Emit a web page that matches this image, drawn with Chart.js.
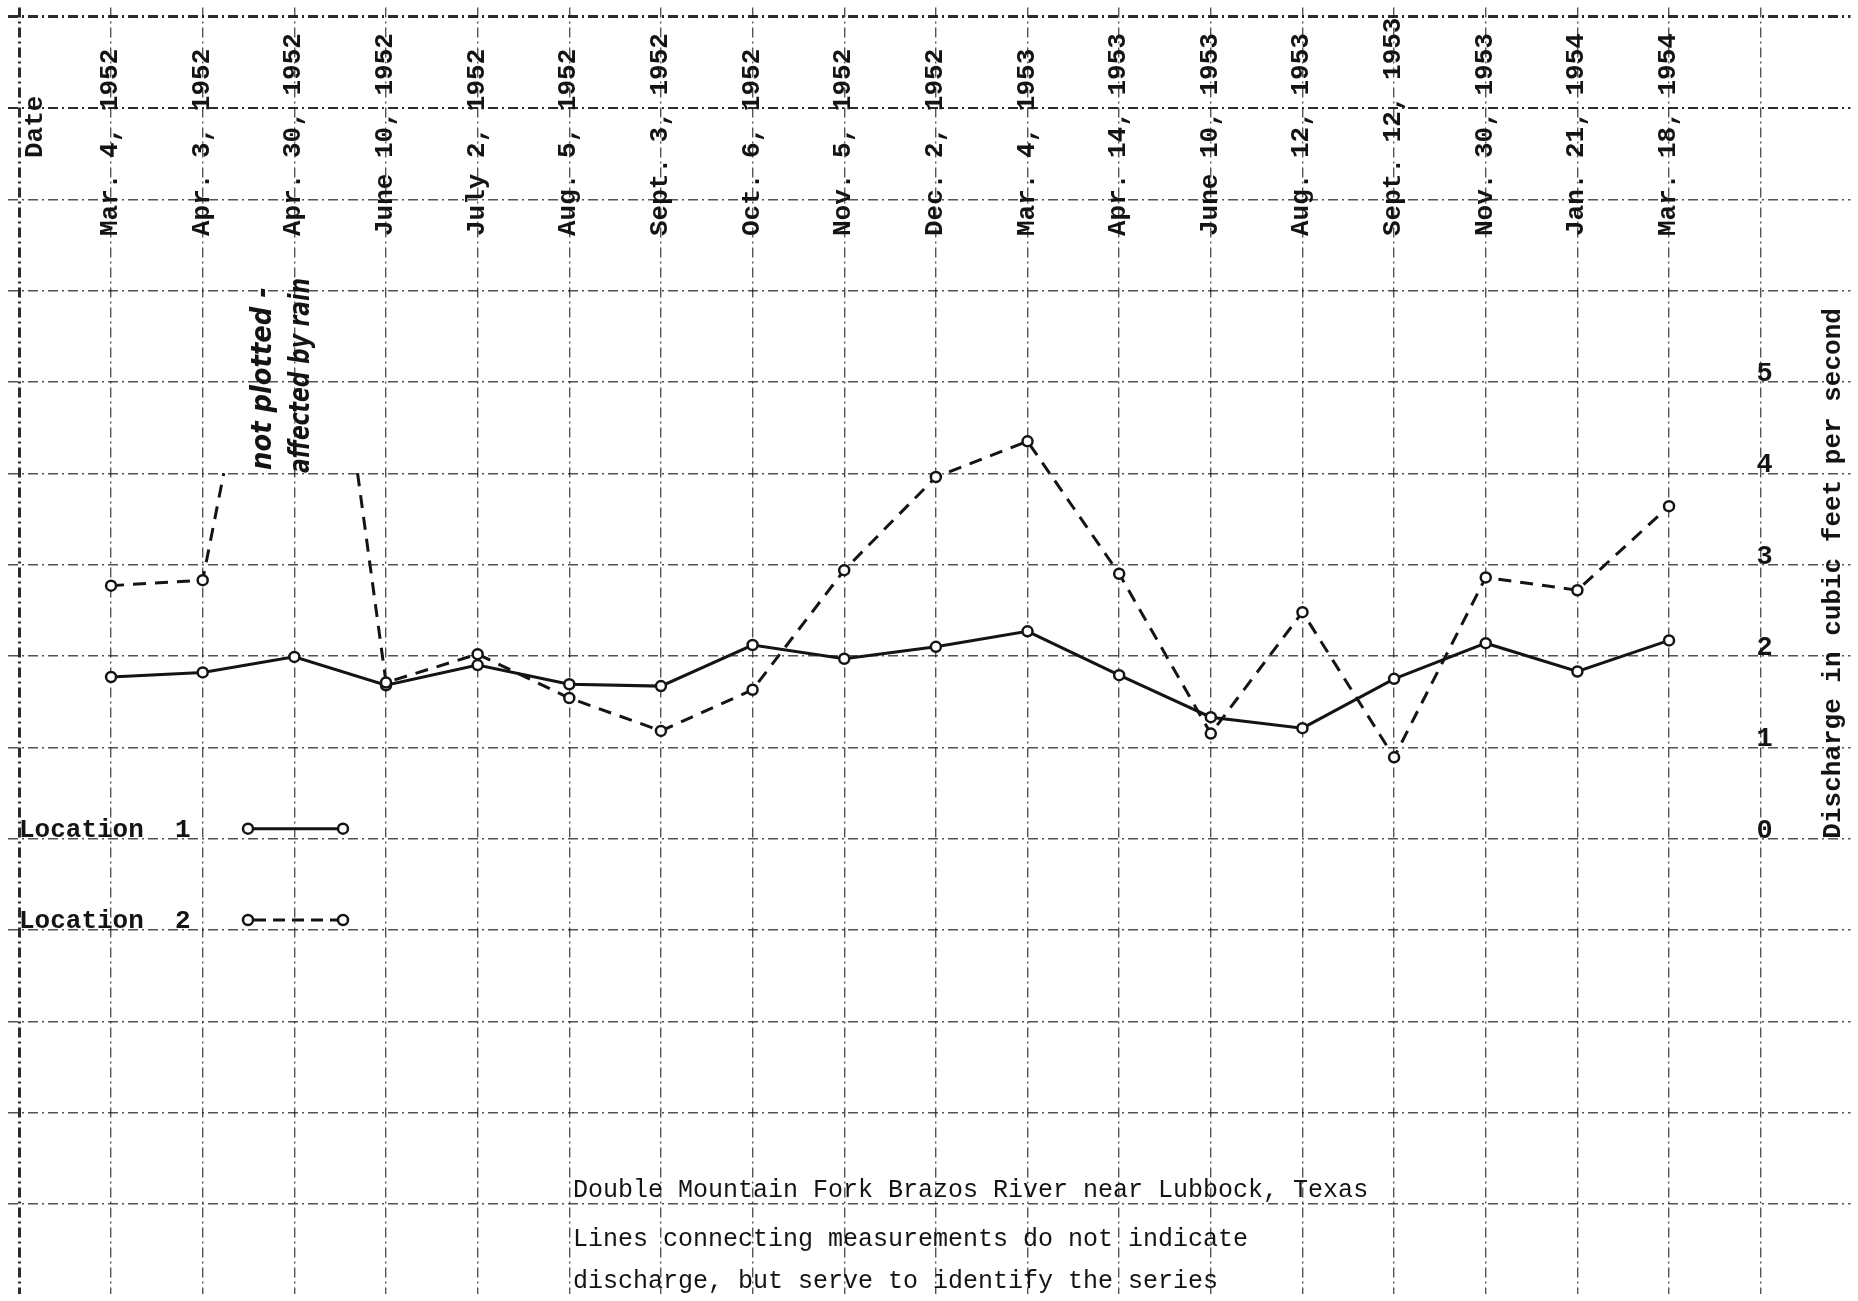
<!DOCTYPE html>
<html>
<head>
<meta charset="utf-8">
<title>Double Mountain Fork Brazos River near Lubbock, Texas</title>
<script src="https://cdn.jsdelivr.net/npm/chart.js@4.4.1/dist/chart.umd.min.js"></script>
<style>
  html, body { margin: 0; padding: 0; background: #fff; }
  canvas { display: block; }
</style>
</head>
<body>
<canvas id="descargaChart" width="1858" height="1301"></canvas>
<script>
// measurement dates (one grid column each)
const datas = [
  'Mar. 4, 1952', 'Apr. 3, 1952', 'Apr. 30, 1952', 'June 10, 1952', 'July 2, 1952',
  'Aug. 5, 1952', 'Sept. 3, 1952', 'Oct. 6, 1952', 'Nov. 5, 1952', 'Dec. 2, 1952',
  'Mar. 4, 1953', 'Apr. 14, 1953', 'June 10, 1953', 'Aug. 12, 1953', 'Sept. 12, 1953',
  'Nov. 30, 1953', 'Jan. 21, 1954', 'Mar. 18, 1954'
];

// discharge, cubic feet per second
const local1 = [1.77, 1.82, 1.99, 1.68, 1.90, 1.69, 1.67, 2.12, 1.97, 2.10, 2.27, 1.79, 1.33, 1.21, 1.75, 2.14, 1.83, 2.17];
const local2 = [2.77, 2.83, null, 1.71, 2.02, 1.54, 1.18, 1.63, 2.94, 3.96, 4.35, 2.90, 1.15, 2.48, 0.89, 2.86, 2.72, 3.64];

// Apr. 30 1952 at location 2 was not plotted (rain); the lines stop at the 4 line
const chuvaSubida = [[2.23, 4.0]];
const chuvaDescida = [[3.69, 4.0]];

const yRotulos = [0, 1, 2, 3, 4, 5];
const tituloY = 'Discharge in cubic feet per second';
const legendas = ['Location  1', 'Location  2'];
const legenda = [
  'Double Mountain Fork Brazos River near Lubbock, Texas',
  'Lines connecting measurements do not indicate',
  'discharge, but serve to identify the series'
];
const notaChuva = ['not plotted -', 'affected by rain'];

const TINTA = '#141414';
const MONO = '"Liberation Mono", "Courier New", monospace';
const TRACO = [13, 9];

function pontos(valores) {
  return valores.map((v, i) => ({ x: i + 1, y: v }));
}

// local 2 with the two rain stubs, broken by a gap at Apr. 30
function pontosLocal2() {
  const pts = pontos(local2);
  return [
    pts[0], pts[1],
    ...chuvaSubida.map(([x, y]) => ({ x, y, stub: true })),
    { x: 3, y: null, stub: true },
    ...chuvaDescida.map(([x, y]) => ({ x, y, stub: true })),
    ...pts.slice(3)
  ];
}

// one grid line per whole unit, nothing at the edges
function soInteiros(scale) {
  const ticks = [];
  for (let v = Math.ceil(scale.min); v <= Math.floor(scale.max); v++) ticks.push({ value: v });
  scale.ticks = ticks;
}

function texto(ctx, str, x, y, rot, font) {
  ctx.save();
  ctx.translate(x, y);
  if (rot) ctx.rotate(-Math.PI / 2);
  ctx.font = font;
  ctx.fillText(str, 0, 0);
  ctx.restore();
}

const textosPlugin = {
  id: 'textos',
  beforeDraw(chart) {
    const ctx = chart.ctx;
    ctx.save();
    ctx.fillStyle = '#fff';
    ctx.fillRect(0, 0, chart.width, chart.height);
    ctx.restore();
  },
  afterDatasetsDraw(chart) {
    const ctx = chart.ctx;
    const xs = chart.scales.x;
    const ys = chart.scales.y;
    const fonte = 'bold 26px ' + MONO;
    ctx.save();
    ctx.fillStyle = TINTA;
    ctx.textAlign = 'left';
    ctx.textBaseline = 'alphabetic';

    // header: dates, read bottom to top
    texto(ctx, 'Date', 42, 158, true, fonte);
    datas.forEach((d, i) => {
      texto(ctx, d, xs.getPixelForValue(i + 1) + 6, 236, true, fonte);
    });

    // discharge scale on the right
    const xEixo = xs.getPixelForValue(19);
    ctx.textAlign = 'center';
    yRotulos.forEach(v => {
      texto(ctx, String(v), xEixo + 4, ys.getPixelForValue(v) - 1, false, 'bold 27px ' + MONO);
    });
    ctx.textAlign = 'left';
    texto(ctx, tituloY, 1840, ys.getPixelForValue(0), true, fonte);

    // legend
    legendas.forEach((nome, i) => {
      const yl = ys.getPixelForValue(-i);
      texto(ctx, nome, 19, yl - 2, false, fonte);
      const ym = yl - 10;
      ctx.save();
      ctx.strokeStyle = TINTA;
      ctx.lineWidth = 3;
      ctx.setLineDash(i === 0 ? [] : [12, 7]);
      ctx.beginPath();
      ctx.moveTo(254, ym);
      ctx.lineTo(338, ym);
      ctx.stroke();
      ctx.setLineDash([]);
      ctx.lineWidth = 2.5;
      ctx.fillStyle = '#fff';
      [248, 343].forEach(cx => {
        ctx.beginPath();
        ctx.arc(cx, ym, 5, 0, Math.PI * 2);
        ctx.fill();
        ctx.stroke();
      });
      ctx.restore();
    });

    // caption
    [1197, 1246, 1288].forEach((yb, i) => {
      texto(ctx, legenda[i], 573, yb, false, '25px ' + MONO);
    });

    // handwritten note
    const alvo = [183, 195];
    const base = [[271, 470], [309, 473]];
    notaChuva.forEach((linha, i) => {
      ctx.save();
      ctx.translate(base[i][0], base[i][1]);
      ctx.rotate(-Math.PI / 2);
      ctx.font = 'italic bold 25px "DejaVu Sans", sans-serif';
      const w = ctx.measureText(linha).width;
      ctx.scale(alvo[i] / w, 1.1);
      ctx.fillText(linha, 0, 0);
      ctx.restore();
    });
    ctx.restore();
  }
};

const estiloPonto = {
  pointRadius: ctx => (ctx.raw && ctx.raw.stub ? 0 : 5),
  pointBorderWidth: 2.5,
  pointBackgroundColor: '#fff',
  pointBorderColor: TINTA
};

const ctx = document.getElementById('descargaChart').getContext('2d');
window.descargaChart = new Chart(ctx, {
  type: 'line',
  data: {
    datasets: [
      {
        label: 'Location 2',
        data: pontosLocal2(),
        borderColor: TINTA,
        borderWidth: 3,
        borderDash: TRACO,
        spanGaps: false,
        tension: 0,
        ...estiloPonto
      },
      {
        label: 'Location 1',
        data: pontos(local1),
        borderColor: TINTA,
        borderWidth: 3,
        tension: 0,
        ...estiloPonto
      }
    ]
  },
  options: {
    responsive: false,
    animation: false,
    events: [],
    layout: { padding: 0 },
    plugins: { legend: { display: false }, tooltip: { enabled: false } },
    scales: {
      x: {
        type: 'linear',
        min: -0.13,
        max: 19.98,
        afterBuildTicks: soInteiros,
        ticks: { display: false, stepSize: 1 },
        grid: {
          drawTicks: false,
          color: c => (c.tick && c.tick.value === 0 ? 'rgba(20,20,20,0.9)' : 'rgba(25,25,25,0.75)'),
          lineWidth: c => (c.tick && c.tick.value === 0 ? 3 : 1.4)
        },
        border: { display: false, dash: [10, 4, 2, 4] }
      },
      y: {
        type: 'linear',
        min: -4.98,
        max: 9.1,
        afterBuildTicks: soInteiros,
        ticks: { display: false, stepSize: 1 },
        grid: {
          drawTicks: false,
          color: c => (c.tick && c.tick.value >= 8 ? 'rgba(20,20,20,0.9)' : 'rgba(25,25,25,0.75)'),
          lineWidth: c => {
            const v = c.tick ? c.tick.value : 0;
            return v === 9 ? 3 : v === 8 ? 2 : 1.4;
          }
        },
        border: { display: false, dash: [10, 4, 2, 4] }
      }
    }
  },
  plugins: [textosPlugin]
});
</script>
</body>
</html>
